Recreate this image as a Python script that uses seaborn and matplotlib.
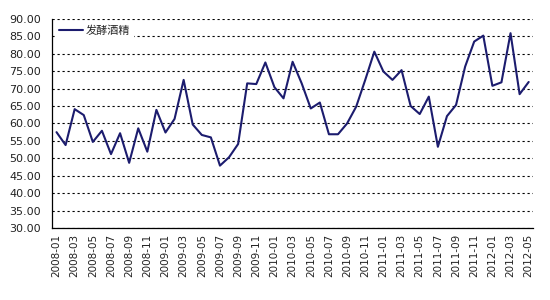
import matplotlib
matplotlib.use("Agg")
import matplotlib.pyplot as plt
import seaborn as sns
import pandas as pd
import numpy as np
from matplotlib.ticker import FixedLocator, FuncFormatter

months = pd.period_range("2008-01", "2012-05", freq="M").strftime("%Y-%m").tolist()
values = [57.5, 53.8, 64.1, 62.4, 54.7, 57.9, 51.2, 57.2, 48.7, 58.6,
          51.9, 63.9, 57.4, 61.3, 72.5, 59.7, 56.7, 56.0, 47.9, 50.3,
          54.1, 71.5, 71.3, 77.5, 70.4, 67.2, 77.7, 71.5, 64.3, 66.0,
          56.9, 56.9, 60.0, 64.8, 72.5, 80.6, 74.9, 72.5, 75.3, 65.0,
          62.7, 67.7, 53.3, 62.1, 65.3, 76.3, 83.5, 85.2, 70.8, 71.8,
          85.9, 68.4, 71.9]
series_name = "发酵酒精"
y_ticks = [30, 35, 40, 45, 50, 55, 60, 65, 70, 75, 80, 85, 90]

df = pd.DataFrame({"idx": np.arange(len(months)), "value": values, "series": series_name})

sns.set_theme(style="white")
plt.rcParams["font.family"] = ["Noto Sans CJK SC", "DejaVu Sans"]

fig = plt.figure(figsize=(5.5, 3.0), dpi=100)
ax = fig.add_axes([0.0945, 0.24, 0.875, 0.697])

sns.lineplot(data=df, x="idx", y="value", hue="series", palette=["#1c1c6e"],
             linewidth=1.5, ax=ax)

ax.set_xlim(-0.5, len(months) - 0.5)
ax.set_ylim(30, 90)
ax.set_yticks(y_ticks)
ax.yaxis.set_major_formatter(FuncFormatter(lambda v, p: f"{v:.2f}"))
ax.yaxis.grid(True, color="black", linestyle=(0, (2, 2.5)), linewidth=0.8)
ax.xaxis.grid(False)

label_pos = list(range(0, len(months), 2))
ax.set_xticks(label_pos)
ax.set_xticklabels([months[i] for i in label_pos], rotation=90, fontsize=7.5,
                   family="DejaVu Sans", color="#222222")
ax.xaxis.set_minor_locator(FixedLocator([i + 1.5 for i in range(-2, len(months) - 1, 2)]))
ax.tick_params(axis="x", which="major", length=0, pad=4)
ax.tick_params(axis="x", which="minor", direction="in", length=4, color="black", width=0.8)
ax.tick_params(axis="y", length=0, labelsize=8, pad=8, labelcolor="#222222")
for lbl in ax.get_yticklabels():
    lbl.set_family("DejaVu Sans")

for s in ["top", "right"]:
    ax.spines[s].set_visible(False)
for s in ["left", "bottom"]:
    ax.spines[s].set_color("black")
    ax.spines[s].set_linewidth(0.9)

ax.set_xlabel("")
ax.set_ylabel("")
leg = ax.legend(loc="upper left", bbox_to_anchor=(0.0, 1.0), frameon=True,
                fontsize=8, handlelength=2.2, handletextpad=0.2, borderpad=0.3,
                borderaxespad=0.3)
leg.get_frame().set_edgecolor("white")
leg.get_frame().set_facecolor("white")
leg.get_frame().set_alpha(1.0)

fig.savefig("out.png", dpi=100, facecolor="white")
